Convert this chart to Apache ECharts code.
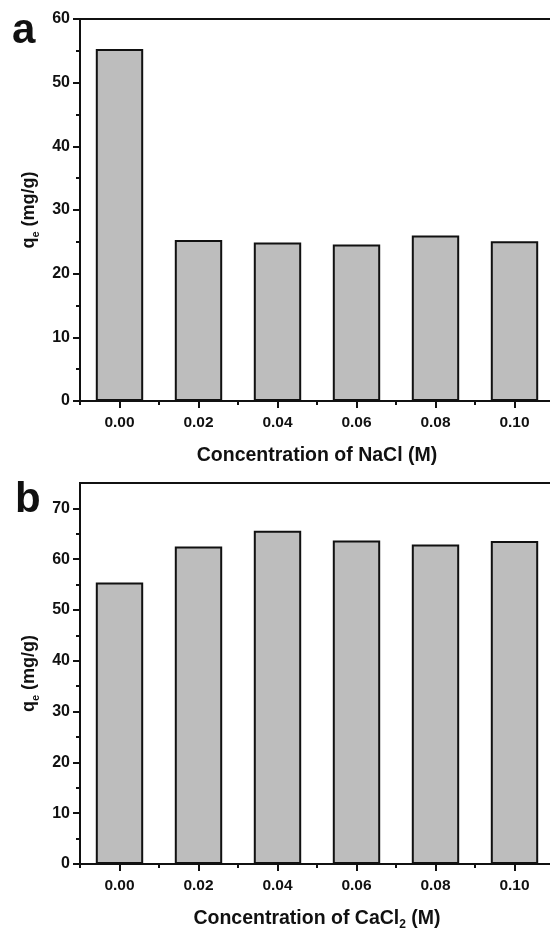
<!DOCTYPE html>
<html>
<head>
<meta charset="utf-8">
<script src="https://cdn.jsdelivr.net/npm/echarts@6/dist/echarts.min.js"></script>
<style>
  html, body { margin: 0; padding: 0; background: #fff; }
  #main { width: 550px; height: 930px; }
</style>
</head>
<body>
<div id="main"></div>
<script>
// concentrations (M), same for both panels
var categories = ['0.00', '0.02', '0.04', '0.06', '0.08', '0.10'];
// qe (mg/g)
var qeNaCl = [55.3, 25.3, 24.9, 24.6, 26.0, 25.1];
var qeCaCl2 = [55.4, 62.5, 65.6, 63.7, 62.9, 63.6];
var yMaxA = 60;
var yMaxB = 75;
var yTicksA = [0, 10, 20, 30, 40, 50, 60];
var yTicksB = [0, 10, 20, 30, 40, 50, 60, 70];

var FONT = 'Liberation Sans';
var chart = echarts.init(document.getElementById('main'));

var gridA = { left: 80, top: 19, width: 474, height: 382 };
var gridB = { left: 80, top: 483, width: 474, height: 381 };

function mainX(gridIndex, name) {
  return {
    type: 'category',
    gridIndex: gridIndex,
    data: categories,
    position: 'bottom',
    name: name,
    nameLocation: 'middle',
    nameGap: 43,
    nameTextStyle: {
      rich: {
        t: { fontFamily: FONT, fontWeight: 'bold', fontSize: 19.5, color: '#111', lineHeight: 24 },
        s: { fontFamily: FONT, fontWeight: 'bold', fontSize: 12, color: '#111', lineHeight: 24, verticalAlign: 'bottom', padding: [9, 0, 0, 0] }
      }
    },
    axisLine: { show: true, onZero: false, lineStyle: { color: '#111', width: 2 } },
    axisTick: { show: true, alignWithLabel: true, interval: 0, length: 7, lineStyle: { color: '#111', width: 2 } },
    axisLabel: { margin: 14, fontFamily: FONT, fontWeight: 'bold', fontSize: 15.5, color: '#111' },
    splitLine: { show: false }
  };
}

// category axis in an overlapping grid, only for the small ticks between the bars
function minorX(gridIndex) {
  return {
    type: 'category',
    gridIndex: gridIndex,
    data: categories,
    position: 'bottom',
    axisLine: { show: true, onZero: false, lineStyle: { color: '#111', width: 2 } },
    axisTick: { show: true, interval: 0, length: 4, lineStyle: { color: '#111', width: 2 } },
    axisLabel: { show: false },
    splitLine: { show: false }
  };
}

function yAxis(gridIndex, max, ticks) {
  return {
    type: 'value',
    gridIndex: gridIndex,
    min: 0,
    max: max,
    interval: 10,
    name: '{q|q}{e|e}{q| (mg/g)}',
    nameLocation: 'middle',
    nameGap: 39,
    nameTextStyle: {
      rich: {
        q: { fontFamily: FONT, fontWeight: 'bold', fontSize: 18, color: '#111', lineHeight: 24 },
        e: { fontFamily: FONT, fontWeight: 'bold', fontSize: 11, color: '#111', lineHeight: 24, verticalAlign: 'bottom', padding: [9, 0, 0, 0] }
      }
    },
    axisLine: { show: true, lineStyle: { color: '#111', width: 2 } },
    axisTick: { show: true, customValues: ticks, length: 7, lineStyle: { color: '#111', width: 2 } },
    minorTick: { show: true, splitNumber: 2, length: 4, lineStyle: { color: '#111', width: 2 } },
    axisLabel: {
      customValues: ticks,
      margin: 10, fontFamily: FONT, fontWeight: 'bold', fontSize: 16, color: '#111'
    },
    splitLine: { show: false },
    minorSplitLine: { show: false }
  };
}

function bars(xIndex, yIndex, data) {
  return {
    type: 'bar',
    xAxisIndex: xIndex,
    yAxisIndex: yIndex,
    data: data,
    barWidth: '60%',
    itemStyle: { color: '#bdbdbd', borderColor: '#111', borderWidth: 2 },
    silent: true
  };
}

function frame(g) {
  return Object.assign({ show: true, borderColor: '#111', borderWidth: 2, outerBoundsMode: 'none' }, g);
}
function ghost(g) {
  return Object.assign({ show: false, outerBoundsMode: 'none' }, g);
}

chart.setOption({
  animation: false,
  backgroundColor: '#fff',
  grid: [frame(gridA), frame(gridB), ghost(gridA), ghost(gridB)],
  xAxis: [
    mainX(0, '{t|Concentration of NaCl (M)}'),
    mainX(1, '{t|Concentration of CaCl}{s|2}{t| (M)}'),
    minorX(2),
    minorX(3)
  ],
  yAxis: [
    yAxis(0, yMaxA, yTicksA),
    yAxis(1, yMaxB, yTicksB),
    { type: 'value', gridIndex: 2, min: 0, max: yMaxA, show: false },
    { type: 'value', gridIndex: 3, min: 0, max: yMaxB, show: false }
  ],
  series: [bars(0, 0, qeNaCl), bars(1, 1, qeCaCl2)],
  graphic: [
    { type: 'text', x: 12, y: 31, style: { text: 'a', font: 'bold 42px "Liberation Sans"', fill: '#111', verticalAlign: 'middle' } },
    { type: 'text', x: 15, y: 500, style: { text: 'b', font: 'bold 42px "Liberation Sans"', fill: '#111', verticalAlign: 'middle' } }
  ]
});
</script>
</body>
</html>
